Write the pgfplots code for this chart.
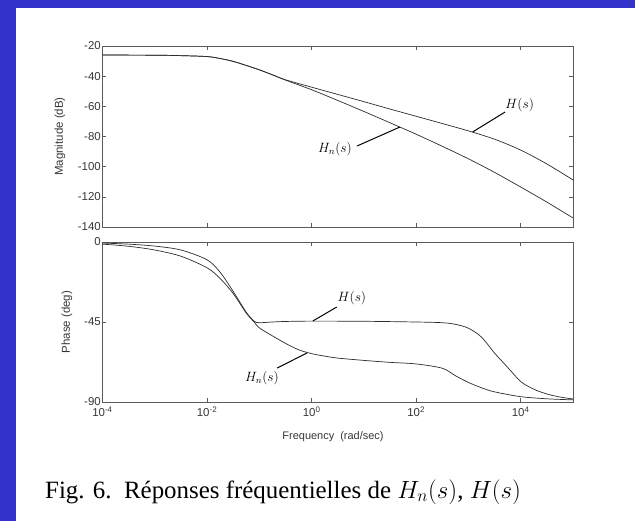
\RequirePackage{fix-cm}
\documentclass[border=0pt]{standalone}
\usepackage{fontspec}
\usepackage{pgfplots}
\pgfplotsset{compat=1.18}
\setmainfont{Liberation Serif}
\newfontfamily\axisfont{Liberation Sans}
\definecolor{frameblue}{RGB}{51,51,204}
\definecolor{axisgray}{RGB}{90,90,90}
\definecolor{curvegray}{RGB}{45,45,45}
\definecolor{txt}{RGB}{55,55,55}

% magnitude (dB), common part then split
\pgfplotstableread{
w        H       Hn
1e-4     -26.0   -26.0
1e-3     -26.1   -26.1
3.162e-3 -26.4   -26.4
1e-2     -27.0   -27.0
1.778e-2 -28.3   -28.3
3.162e-2 -30.2   -30.2
5.623e-2 -32.9   -32.9
1e-1     -35.8   -35.8
1.778e-1 -39.1   -39.1
3.162e-1 -42.4   -42.6
1        -47.3   -49.0
3.162    -52.1   -56.1
10       -56.9   -63.4
31.62    -61.8   -70.9
100      -66.6   -78.5
316.2    -71.4   -86.5
1000     -76.3   -94.8
3162     -81.8   -103.8
1e4      -89.0   -113.5
3.162e4  -98.2   -123.5
1e5      -108.8  -134.0
}\magdata

\pgfplotstableread{
w        H
1e-4     -0.6
3.162e-4 -1.2
1e-3     -2.3
3.162e-3 -4.5
1e-2     -10.0
1.778e-2 -17.0
3.162e-2 -27.8
5.623e-2 -39.5
7.943e-2 -44.5
1e-1     -45.4
1.778e-1 -45.0
3.162e-1 -44.7
1        -44.5
10       -44.6
100      -45.0
316.2    -45.4
562.3    -46.3
1000     -48.5
1778     -53.5
3162     -62.5
5623     -70.5
1e4      -78.5
1.778e4  -82.8
3.162e4  -85.5
5.623e4  -87.2
1e5      -88.3
}\phH

\pgfplotstableread{
w        Hn
1e-4     -1.2
3.162e-4 -2.4
1e-3     -4.5
3.162e-3 -8.0
1e-2     -14.5
1.778e-2 -20.5
3.162e-2 -29.0
5.623e-2 -40.0
7.943e-2 -45.0
1e-1     -48.3
1.778e-1 -52.8
3.162e-1 -57.0
5.623e-1 -60.6
1        -62.8
1.778    -64.2
3.162    -65.3
10       -66.6
31.62    -67.7
100      -68.6
316.2    -71.0
562.3    -75.2
1000     -79.0
1778     -82.0
3162     -84.3
1e4      -87.0
3.162e4  -88.2
1e5      -88.8
}\phHn

\tikzset{
  mylbl/.style={font=\fontsize{13.5}{16}\selectfont, text=black, inner sep=0pt},
  mylead/.style={draw=black, line width=1bp},
  mycurve/.style={draw=curvegray, line width=0.7bp, smooth},
}

\begin{document}
\begin{tikzpicture}
\useasboundingbox (0,0) rectangle (635bp,521bp);
\fill[frameblue] (0,0) rectangle (635bp,521bp);
\fill[white] (16bp,0) rectangle (635bp,513bp);

% magnitude
\begin{axis}[at={(102.5bp,294bp)}, anchor=south west,
  xmode=log, xmin=1e-4, xmax=1e5,
  scale only axis, width=470.5bp, height=181bp,
  axis line style={draw=axisgray, line width=0.6bp},
  tick style={draw=axisgray, line width=0.6bp},
  major tick length=4bp, tick align=inside,
  xtick={1e-4,1e-2,1,1e2,1e4}, minor xtick={},
  xtick pos=both, ytick pos=both,
  xticklabel pos=lower, yticklabel pos=left,
  ticklabel style={font=\axisfont\fontsize{11.5}{13}\selectfont, text=txt},
  yticklabel style={inner xsep=1.5bp},
  ymin=-140, ymax=-20, ytick={-140,-120,-100,-80,-60,-40,-20},
  yticklabels={-140,-120,-100,-80,-60,-40,-20}, xticklabels={},
  ylabel={Magnitude (dB)},
  ylabel style={font=\axisfont\fontsize{11.5}{13}\selectfont, text=txt,
    at={(axis description cs:-0.0903,0.5)}, anchor=center},
  clip=false]
\addplot[mycurve] table[x=w, y=H] {\magdata};
\addplot[mycurve] table[x=w, y=Hn] {\magdata};
\node[mylbl] at (axis cs:9550,-59.1) {$H(s)$};
\draw[mylead] (axis cs:5012,-63.8) -- (axis cs:1202,-77.0);
\node[mylbl] at (axis cs:2.79,-88.3) {$H_n(s)$};
\draw[mylead] (axis cs:7.4,-86.3) -- (axis cs:49,-73.7);
\end{axis}

% phase
\begin{axis}[at={(102.5bp,119bp)}, anchor=south west,
  xmode=log, xmin=1e-4, xmax=1e5,
  scale only axis, width=470.5bp, height=160bp,
  axis line style={draw=axisgray, line width=0.6bp},
  tick style={draw=axisgray, line width=0.6bp},
  major tick length=4bp, tick align=inside,
  xtick={1e-4,1e-2,1,1e2,1e4}, minor xtick={},
  xtick pos=both, ytick pos=both,
  xticklabel pos=lower, yticklabel pos=left,
  ticklabel style={font=\axisfont\fontsize{11.5}{13}\selectfont, text=txt},
  yticklabel style={inner xsep=1.5bp},
  xticklabel style={yshift=-1.5bp},
  ymin=-90, ymax=0, ytick={-90,-45,0}, yticklabels={-90,-45,0},
  xticklabels={10\textsuperscript{-4},10\textsuperscript{-2},10\textsuperscript{0},10\textsuperscript{2},10\textsuperscript{4}},
  ylabel={Phase (deg)},
  ylabel style={font=\axisfont\fontsize{11.5}{13}\selectfont, text=txt,
    at={(axis description cs:-0.0755,0.5)}, anchor=center},
  xlabel={Frequency\ \ (rad/sec)},
  xlabel style={font=\axisfont\fontsize{11}{13}\selectfont, text=txt,
    at={(axis description cs:0.49,0)}, yshift=-35bp, anchor=center},
  clip=false]
\addplot[mycurve] table[x=w, y=H] {\phH};
\addplot[mycurve] table[x=w, y=Hn] {\phHn};
\node[mylbl] at (axis cs:5.9,-31.5) {$H(s)$};
\draw[mylead] (axis cs:3.02,-36.6) -- (axis cs:1.06,-44.4);
\node[mylbl] at (axis cs:0.112,-76.5) {$H_n(s)$};
\draw[mylead] (axis cs:0.219,-70.9) -- (axis cs:0.81,-62.5);
\end{axis}

\node[anchor=base west, inner sep=0pt] at (45bp,23bp)
  {\fontsize{25}{30}\selectfont Fig. 6.\ \ Réponses fréquentielles de $H_n(s)$, $H(s)$};
\end{tikzpicture}
\end{document}
